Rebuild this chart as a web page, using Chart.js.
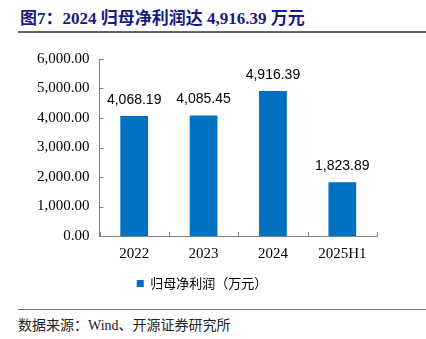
<!DOCTYPE html>
<html>
<head>
<meta charset="utf-8">
<script src="https://cdn.jsdelivr.net/npm/chart.js@4"></script>
<style>
  html, body { margin: 0; padding: 0; background: #fff; }
  body { width: 426px; height: 339px; position: relative; overflow: hidden; }
  .title {
    position: absolute; left: 20px; top: 4px;
    font: bold 17px "Liberation Serif", "Noto Sans CJK SC", serif;
    color: #1b1b7d; white-space: nowrap;
  }
  .rule-top { position: absolute; left: 18px; right: 0; top: 31px; height: 2px; background: #666; }
  .rule-bottom { position: absolute; left: 18px; right: 0; top: 309px; height: 1px; background: #777; }
  .source {
    position: absolute; left: 18px; top: 314px;
    font: 14px "Liberation Serif", "Noto Sans CJK SC", serif;
    color: #222; white-space: nowrap;
  }
  .box { position: absolute; left: 0; top: 40px; width: 426px; height: 262px; }
</style>
</head>
<body>
<div class="title">图7：2024 归母净利润达 4,916.39 万元</div>
<div class="rule-top"></div>
<div class="box"><canvas id="chart"></canvas></div>
<div class="rule-bottom"></div>
<div class="source">数据来源：Wind、开源证券研究所</div>
<script>
const years = ['2022', '2023', '2024', '2025H1'];
const profit = [4068.19, 4085.45, 4916.39, 1823.89];
const seriesName = '归母净利润（万元）';
const yTicks = [0, 1000, 2000, 3000, 4000, 5000, 6000];

const fmt = v => v.toLocaleString('en-US', { minimumFractionDigits: 2, maximumFractionDigits: 2 });

// short tick marks pointing into the plot, like the office chart style
const innerTicks = {
    id: 'innerTicks',
    afterDraw(chart) {
        const ctx = chart.ctx;
        const x = chart.scales.x, y = chart.scales.y;
        const area = chart.chartArea;
        ctx.save();
        ctx.strokeStyle = '#808080';
        ctx.lineWidth = 1;
        ctx.beginPath();
        y.ticks.forEach((t, i) => {
            const py = Math.round(y.getPixelForTick(i)) + 0.5;
            ctx.moveTo(area.left, py);
            ctx.lineTo(area.left + 4, py);
        });
        for (let i = 0; i <= years.length; i++) {
            const px = Math.round(x.getPixelForValue(i - 0.5)) + 0.5;
            ctx.moveTo(px, area.bottom);
            ctx.lineTo(px, area.bottom - 4);
        }
        ctx.stroke();
        ctx.restore();
    }
};

// value printed above each bar
const barValues = {
    id: 'barValues',
    afterDatasetsDraw(chart) {
        const ctx = chart.ctx;
        const meta = chart.getDatasetMeta(0);
        ctx.save();
        ctx.font = '14px "Liberation Sans", sans-serif';
        ctx.fillStyle = '#000';
        ctx.textAlign = 'center';
        ctx.textBaseline = 'bottom';
        meta.data.forEach((bar, i) => {
            ctx.fillText(fmt(profit[i]), bar.x, bar.y - 9);
        });
        ctx.restore();
    }
};

new Chart(document.getElementById('chart'), {
    type: 'bar',
    data: {
        labels: years,
        datasets: [{
            label: seriesName,
            data: profit,
            backgroundColor: '#0070C0',
            categoryPercentage: 1,
            barPercentage: 0.4
        }]
    },
    options: {
        responsive: true,
        maintainAspectRatio: false,
        animation: false,
        events: [],
        layout: { padding: { left: 27, right: 49, top: 8, bottom: 2 } },
        plugins: {
            legend: {
                position: 'bottom',
                labels: {
                    boxWidth: 7,
                    boxHeight: 7,
                    padding: 5,
                    color: '#000',
                    font: { family: '"Noto Sans CJK SC", sans-serif', size: 13 }
                }
            },
            tooltip: { enabled: false }
        },
        scales: {
            x: {
                grid: { display: false, drawTicks: false },
                border: { display: true, color: '#808080', width: 1 },
                ticks: {
                    padding: 9,
                    color: '#000',
                    font: { family: '"Liberation Serif", serif', size: 15 }
                }
            },
            y: {
                min: 0,
                max: 6000,
                afterBuildTicks: axis => { axis.ticks = yTicks.map(v => ({ value: v })); },
                grid: { display: false, drawTicks: false },
                border: { display: true, color: '#808080', width: 1 },
                ticks: {
                    padding: 10,
                    color: '#000',
                    font: { family: '"Liberation Serif", serif', size: 15 },
                    callback: v => fmt(v)
                }
            }
        }
    },
    plugins: [innerTicks, barValues]
});
</script>
</body>
</html>
